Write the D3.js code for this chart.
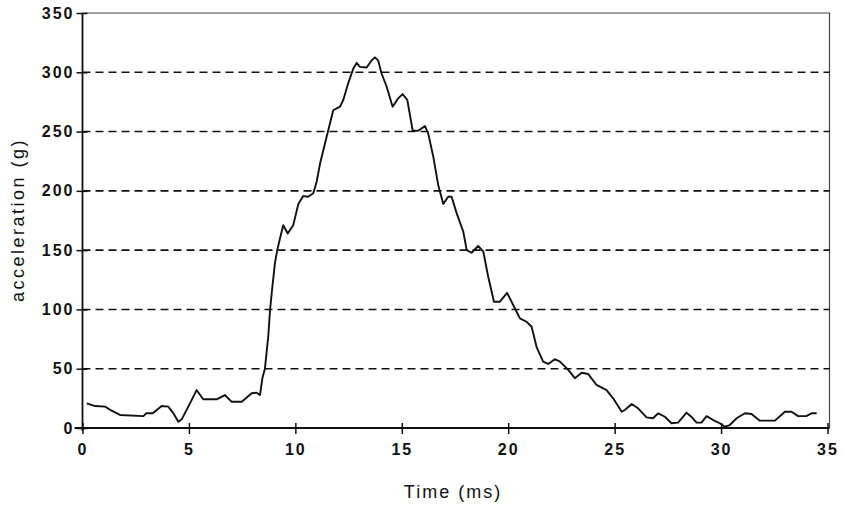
<!DOCTYPE html>
<html lang="en">
<head>
	<meta charset="utf-8">
	<title>Acceleration vs time</title>
	<script type="text/javascript" src="https://cdn.jsdelivr.net/npm/d3@7/dist/d3.min.js"></script>
</head>
<style type="text/css">
	body{
		margin:0;
		background-color:white;
	}
	.tick text{
		font-family:Arial, "Liberation Sans", sans-serif;
		font-size:16px;
		font-weight:bold;
		letter-spacing:2px;
		fill:#111;
	}
	.labels{
		font-family:Arial, "Liberation Sans", sans-serif;
		font-size:18px;
		fill:#111;
	}
</style>
<body>

<div id="vizContainer"></div>

<script type="text/javascript">
// -----------PART 1: THE DATA-----------
var timeMs = [0.2, 0.59, 1.06, 1.37, 1.76, 2.86, 3.0, 3.3, 3.72, 4.03, 4.27, 4.5, 4.66, 5.05, 5.36, 5.67,
	6.3, 6.69, 7.0, 7.48, 7.95, 8.18, 8.34, 8.45, 8.57, 8.73, 8.81, 8.92, 9.04, 9.15, 9.28, 9.43,
	9.64, 9.9, 10.14, 10.37, 10.6, 10.84, 11.0, 11.16, 11.47, 11.78, 12.1, 12.25, 12.48, 12.72,
	12.88, 13.03, 13.35, 13.58, 13.74, 13.89, 14.05, 14.29, 14.57, 14.83, 15.04, 15.26, 15.51,
	15.77, 16.09, 16.24, 16.48, 16.71, 16.95, 17.18, 17.34, 17.58, 17.89, 18.05, 18.28, 18.59,
	18.83, 19.06, 19.33, 19.61, 19.95, 20.31, 20.55, 20.86, 21.1, 21.33, 21.64, 21.88, 22.19,
	22.43, 22.82, 23.13, 23.45, 23.76, 24.15, 24.62, 24.93, 25.33, 25.48, 25.8, 26.1, 26.5,
	26.8, 27.05, 27.36, 27.67, 27.98, 28.38, 28.6, 28.85, 29.08, 29.32, 29.63, 29.94, 30.18,
	30.41, 30.73, 31.12, 31.43, 31.82, 32.53, 33.0, 33.31, 33.62, 34.0, 34.25, 34.49];

var accelG = [20.8, 18.5, 18, 14.6, 11, 10, 12.4, 12.4, 18.5, 18, 12.4, 5.3, 7.3, 20.8, 32, 24.2,
	24.2, 27.8, 22.2, 22.2, 29.3, 29.8, 27.8, 42, 50, 78, 99.5, 119, 139, 150, 160, 171,
	164, 171, 189, 195.6, 195, 198, 207.7, 223, 245.6, 268, 271, 276.6, 290.6, 303,
	308, 304.6, 304, 310, 312.6, 310, 299, 287.8, 271, 278, 281.6, 276.6, 251,
	250.7, 254.6, 248.5, 228.8, 205, 189, 195, 195, 181, 165.5, 150, 147.8, 153.5,
	148.7, 127.6, 106.5, 106.5, 114, 101, 92.5, 89.6, 85.4, 68.5, 56, 54, 58,
	56, 49, 42, 46.6, 45.5, 36.3, 32, 25, 13.7, 15.2, 20.2, 16.6, 9,
	8.2, 12.4, 9.5, 4, 4.5, 12.9, 9.5, 4.5, 4.5, 10, 6.7, 4, 1.1,
	2.5, 8.2, 12.4, 11.8, 6.2, 6.2, 13.7, 13.7, 10, 10, 12.4, 12.4];

var xTicks = [0, 5, 10, 15, 20, 25, 30, 35];
var yTicks = [0, 50, 100, 150, 200, 250, 300, 350];
var gridValues = [50, 100, 150, 200, 250, 300];

// -----------PART 2: SETTING UP THE CANVAS-----------
var width = 846;
var height = 505;
// (not called "top" - that name belongs to the window)
var plotLeft = 82.5, plotRight = 827.5, plotTop = 13, plotBottom = 428;

var svgCanvas = d3.select("#vizContainer").append("svg")
	.attr("width", width)
	.attr("height", height);

var xScale = d3.scaleLinear().domain([0, 35]).range([plotLeft, plotRight]);
var yScale = d3.scaleLinear().domain([0, 350]).range([plotBottom, plotTop]);

// -----------PART 3: DRAWING ON THE CANVAS-----------
// top and right frame
svgCanvas.append("path")
	.attr("d", "M" + plotLeft + "," + plotTop + "H" + (plotRight + 2) + "V" + plotBottom)
	.attr("fill", "none")
	.attr("stroke", "#444")
	.attr("stroke-width", 1.2);

// dashed gridlines
svgCanvas.selectAll(".grid")
	.data(gridValues)
	.enter()
	.append("line")
	.attr("class", "grid")
	.attr("x1", plotLeft)
	.attr("x2", plotRight + 2)
	.attr("y1", function(d){ return yScale(d); })
	.attr("y2", function(d){ return yScale(d); })
	.attr("stroke", "#111")
	.attr("stroke-width", 1.6)
	.attr("stroke-dasharray", "8,5");

// axes
var xAxis = d3.axisBottom(xScale).tickValues(xTicks).tickSize(6).tickPadding(10).tickSizeOuter(0);
var yAxis = d3.axisLeft(yScale).tickValues(yTicks).tickSize(6).tickPadding(2).tickSizeOuter(0);

var gx = svgCanvas.append("g")
	.attr("transform", "translate(0," + plotBottom + ")")
	.call(xAxis);
var gy = svgCanvas.append("g")
	.attr("transform", "translate(" + plotLeft + ",0)")
	.call(yAxis);

[gx, gy].forEach(function(g){
	g.select(".domain").attr("stroke", "#111").attr("stroke-width", 1.8);
	g.selectAll(".tick line").attr("stroke", "#111").attr("stroke-width", 1.5);
});
// ticks cross the axis line
gx.selectAll(".tick line").attr("y1", -5);
gy.selectAll(".tick line").attr("x1", 5);
gy.select(".domain").attr("d", "M0," + plotTop + "V" + (plotBottom + 3));
gx.select(".domain").attr("d", "M" + (plotLeft - 8) + ",0H" + (plotRight + 2));

// the acceleration trace
var points = timeMs.map(function(t, i){ return [t, accelG[i]]; });
svgCanvas.append("path")
	.datum(points)
	.attr("fill", "none")
	.attr("stroke", "#111")
	.attr("stroke-width", 1.9)
	.attr("stroke-linejoin", "round")
	.attr("d", d3.line()
		.x(function(d){ return xScale(d[0]); })
		.y(function(d){ return yScale(d[1]); }));

// axis titles
svgCanvas.append("text")
	.attr("class", "labels")
	.attr("x", 453)
	.attr("y", 498)
	.attr("text-anchor", "middle")
	.attr("letter-spacing", "2px")
	.text("Time (ms)");

svgCanvas.append("text")
	.attr("class", "labels")
	.attr("transform", "translate(24," + 220 + ") rotate(-90)")
	.attr("text-anchor", "middle")
	.attr("letter-spacing", "2.5px")
	.text("acceleration (g)");
</script>
</body>
</html>
